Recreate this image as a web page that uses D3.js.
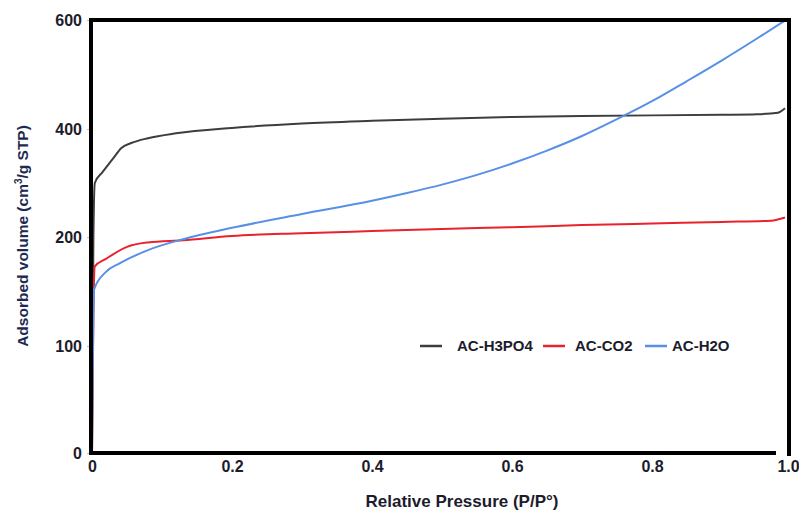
<!DOCTYPE html>
<html>
<head>
<meta charset="utf-8">
<script src="https://cdn.jsdelivr.net/npm/d3@7"></script>
<style>
  body { margin: 0; background: #fff; }
  svg { font-family: "Liberation Sans", Arial, sans-serif; }
</style>
</head>
<body>
<div id="chart"></div>
<script>
(function() {
  const width = 799, height = 513;

  // isotherm data, [P/P0, volume]
  const h3po4 = [[0,0],[0.002,200],[0.004,300],[0.015,320],[0.03,345],[0.042,365],[0.056,374],[0.08,383],
    [0.12,392],[0.2,402],[0.3,410],[0.4,415],[0.5,419],[0.6,422],[0.7,424],[0.8,425],[0.9,426],
    [0.95,427],[0.98,430],[0.99,438]];
  const co2 = [[0,0],[0.002,130],[0.004,173],[0.02,180],[0.05,191],[0.08,195],[0.13,197],[0.2,202],
    [0.3,207],[0.4,211],[0.5,215],[0.6,218],[0.7,222],[0.8,225],[0.9,228],[0.97,230],[0.99,236]];
  const h2o = [[0,0],[0.003,152],[0.02,168],[0.04,176],[0.08,188],[0.13,198],[0.2,217],[0.3,242.5],
    [0.4,267],[0.45,281.4],[0.5,297],[0.55,315],[0.6,336],[0.65,360],[0.7,387],[0.75,418],[0.8,451],
    [0.85,488],[0.9,526],[0.95,566],[0.99,599]];

  const seriesNames = ["AC-H3PO4", "AC-CO2", "AC-H2O"];
  const seriesColors = ["#3d3d3d", "#e8232d", "#5790e6"];
  const seriesData = [h3po4, co2, h2o];

  const xTicks = [0, 0.2, 0.4, 0.6, 0.8, 1.0];
  const yTicks = [0, 100, 200, 400, 600];

  const svg = d3.select("#chart").append("svg")
    .attr("width", width)
    .attr("height", height);

  const x = d3.scaleLinear().domain([0, 1]).range([92, 792]);
  // the original axis is not linear: ticks are evenly spaced but labelled 0,100,200,400,600
  const y = d3.scaleLinear().domain(yTicks).range([453, 346, 237, 129, 20]);

  const line = d3.line()
    .x(d => x(d[0]))
    .y(d => y(d[1]))
    .curve(d3.curveMonotoneX);

  // curves
  svg.selectAll("path.series")
    .data(seriesData)
    .join("path")
    .attr("class", "series")
    .attr("fill", "none")
    .attr("stroke", (d, i) => seriesColors[i])
    .attr("stroke-width", 2)
    .attr("d", line);

  // y ticks + labels
  const yAxis = svg.append("g")
    .attr("transform", "translate(91,0)")
    .call(d3.axisLeft(y).tickValues(yTicks).tickSize(4).tickPadding(5).tickFormat(d3.format("d")));
  yAxis.select(".domain").remove();
  yAxis.selectAll(".tick line").attr("stroke", "#bbb");
  yAxis.selectAll(".tick text")
    .attr("fill", "#1c1c2c")
    .style("font-size", "16px")
    .style("font-weight", "bold");

  // x tick labels
  const xAxis = svg.append("g")
    .attr("transform", "translate(0,455)")
    .call(d3.axisBottom(x).tickValues(xTicks).tickSize(0).tickPadding(6)
      .tickFormat(d => d === 0 ? "0" : d3.format(".1f")(d)));
  xAxis.select(".domain").remove();
  xAxis.selectAll(".tick text")
    .attr("fill", "#1c1c2c")
    .style("font-size", "16px")
    .style("font-weight", "bold")
    .attr("dx", d => d === 1 ? -4 : 0);

  // frame
  const frame = svg.append("g").attr("stroke", "#000").attr("stroke-width", 4).attr("fill", "none");
  frame.append("line").attr("x1", 91).attr("x2", 91).attr("y1", 18).attr("y2", 455);
  frame.append("line").attr("x1", 89).attr("x2", 776).attr("y1", 453).attr("y2", 453);
  frame.append("line").attr("x1", 89).attr("x2", 791).attr("y1", 20).attr("y2", 20);
  frame.append("line").attr("x1", 789).attr("x2", 789).attr("y1", 18).attr("y2", 456);

  // axis titles
  svg.append("text")
    .attr("x", 462).attr("y", 507)
    .attr("text-anchor", "middle")
    .attr("fill", "#1c1c2c")
    .style("font-size", "17px")
    .style("font-weight", "bold")
    .text("Relative Pressure (P/P°)");

  const yTitle = svg.append("text")
    .attr("transform", "translate(28,236) rotate(-90)")
    .attr("text-anchor", "middle")
    .attr("fill", "#1d2b52")
    .style("font-size", "15.5px")
    .style("font-weight", "bold");
  yTitle.append("tspan").text("Adsorbed volume (cm");
  yTitle.append("tspan").attr("dy", -6).style("font-size", "10px").text("3");
  yTitle.append("tspan").attr("dy", 6).text("/g STP)");

  // legend
  const legendX = [420, 543, 645];
  const legend = svg.append("g").selectAll("g")
    .data(seriesNames)
    .join("g")
    .attr("transform", (d, i) => `translate(${legendX[i]},346)`);
  legend.append("line")
    .attr("x1", 0).attr("x2", 22)
    .attr("stroke", (d, i) => seriesColors[i])
    .attr("stroke-width", 2.5);
  legend.append("text")
    .attr("x", (d, i) => i === 2 ? 27 : (i === 0 ? 37 : 32))
    .attr("y", 5)
    .attr("fill", "#1c1c2c")
    .style("font-size", "15px")
    .style("font-weight", "bold")
    .text(d => d);
})();
</script>
</body>
</html>
